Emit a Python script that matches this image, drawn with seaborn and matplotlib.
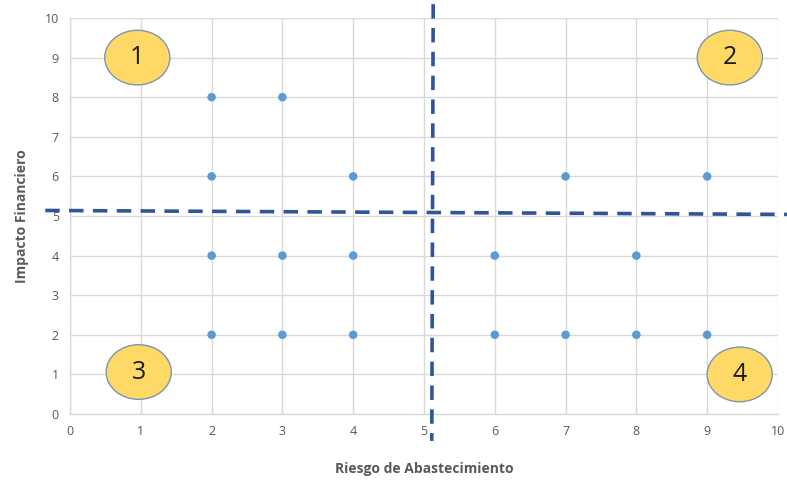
import matplotlib
matplotlib.use("Agg")
import matplotlib.pyplot as plt
from matplotlib.patches import Ellipse
import pandas as pd
import seaborn as sns

# Supply-risk vs financial-impact portfolio
riesgo = [2, 3, 2, 4, 7, 9, 2, 3, 4, 6, 8, 2, 3, 4, 6, 7, 8, 9]
impacto = [8, 8, 6, 6, 6, 6, 4, 4, 4, 4, 4, 2, 2, 2, 2, 2, 2, 2]

# Quadrant labels and their positions
cuadrantes = ["1", "2", "3", "4"]
cuadrante_x = [0.95, 9.32, 0.97, 9.46]
cuadrante_y = [9.0, 9.0, 1.06, 1.0]

# Quadrant split lines
corte_x = [5.13, 5.11]
corte_y = [5.14, 5.04]

ticks = list(range(0, 11))

df = pd.DataFrame({"Riesgo de Abastecimiento": riesgo, "Impacto Financiero": impacto})

sns.set_theme(style="white")
plt.rcParams["font.family"] = ["Open Sans", "DejaVu Sans"]

fig = plt.figure(figsize=(7.87, 4.80), dpi=100)
ax = fig.add_axes([0.089, 0.1375, 0.8995, 0.825])

sns.scatterplot(data=df, x="Riesgo de Abastecimiento", y="Impacto Financiero",
                ax=ax, color="#5B9BD5", s=38, edgecolor="none", zorder=3)

ax.set_xlim(0, 10)
ax.set_ylim(0, 10)
ax.set_xticks(ticks)
ax.set_yticks(ticks)
ax.grid(True, color="#D9D9D9", linewidth=1.0)
ax.set_axisbelow(True)
for side in ["top", "right"]:
    ax.spines[side].set_visible(False)
for side in ["left", "bottom"]:
    ax.spines[side].set_color("#D9D9D9")
    ax.spines[side].set_linewidth(1.0)
ax.tick_params(axis="both", colors="#595959", labelsize=9, length=4,
               width=1.0, direction="out", pad=4)
ax.tick_params(axis="both", color="#D9D9D9")

ax.set_xlabel("Riesgo de Abastecimiento", fontsize=10, fontweight="bold",
              color="#595959", labelpad=17)
ax.set_ylabel("Impacto Financiero", fontsize=10, fontweight="bold",
              color="#595959", labelpad=11)

# Dashed quadrant dividers, extending past the plotting area
ax.plot(corte_x, [10.35, -0.68], color="#2F5597", linewidth=2.6,
        linestyle=(0, (4, 2.6)), clip_on=False, zorder=4)
ax.plot([-0.35, 10.15], corte_y, color="#2F5597", linewidth=2.6,
        linestyle=(0, (4, 2.6)), clip_on=False, zorder=4)

# Numbered quadrant badges
for txt, cx, cy in zip(cuadrantes, cuadrante_x, cuadrante_y):
    ax.add_patch(Ellipse((cx, cy), width=0.92, height=1.38, facecolor="#FFD966",
                         edgecolor="#7F95AC", linewidth=1.0, zorder=5))
    ax.text(cx, cy, txt, ha="center", va="center", fontsize=18,
            color="#1A1A1A", zorder=6)

fig.savefig("out.png", dpi=100)
